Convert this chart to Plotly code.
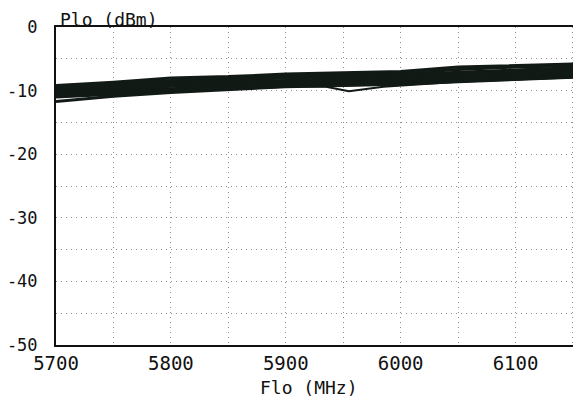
import plotly.graph_objects as go

# Frequencies (MHz) shared by the swept traces
freq = [5700, 5750, 5800, 5850, 5900, 5950, 6000, 6050, 6100, 6150, 6200]

# Plo (dBm) for each measured trace
trace_1 = [-9.2, -8.7, -8.0, -7.8, -7.4, -7.2, -7.0, -6.3, -6.0, -5.8, -5.6]
trace_2 = [-9.5, -9.0, -8.4, -8.1, -7.7, -7.5, -7.3, -6.7, -6.3, -6.1, -5.9]
trace_3 = [-9.8, -9.3, -8.7, -8.4, -8.0, -7.8, -7.6, -7.1, -6.7, -6.4, -6.2]
trace_4 = [-10.0, -9.6, -9.0, -8.7, -8.3, -8.1, -7.9, -7.4, -7.0, -6.7, -6.5]
trace_5 = [-10.3, -9.9, -9.3, -9.0, -8.6, -8.4, -8.2, -7.7, -7.3, -7.0, -6.8]
trace_6 = [-10.5, -10.1, -9.6, -9.3, -8.9, -8.7, -8.5, -8.0, -7.6, -7.3, -7.1]
trace_7 = [-10.8, -10.4, -9.9, -9.5, -9.1, -8.9, -8.7, -8.3, -7.9, -7.6, -7.4]
trace_8 = [-11.0, -10.6, -10.1, -9.7, -9.3, -9.1, -8.9, -8.5, -8.1, -7.8, -7.6]
trace_9 = [-11.7, -10.9, -10.3, -9.8, -9.4, -9.2, -9.0, -8.6, -8.2, -7.9, -7.7]
traces = [trace_1, trace_2, trace_3, trace_4, trace_5, trace_6, trace_7, trace_8, trace_9]

# One trace with a notch near 5955 MHz
dip_freq = [5700, 5800, 5900, 5935, 5955, 5985, 6050, 6200]
dip_vals = [-10.6, -9.9, -9.3, -9.4, -10.1, -9.4, -8.6, -7.6]

x_tick_vals = [5700, 5750, 5800, 5850, 5900, 5950, 6000, 6050, 6100, 6150]
x_tick_text = ["5700", "", "5800", "", "5900", "", "6000", "", "6100", ""]
y_tick_vals = [0, -5, -10, -15, -20, -25, -30, -35, -40, -45, -50]
y_tick_text = ["0", "", "-10", "", "-20", "", "-30", "", "-40", "", "-50"]

INK = "#121a16"
FONT = "DejaVu Sans Mono"
GRID = "#8f8f8f"

fig = go.Figure()
for t in traces:
    fig.add_trace(go.Scatter(x=freq, y=t, mode="lines",
                             line=dict(color=INK, width=3), showlegend=False,
                             hoverinfo="skip"))
fig.add_trace(go.Scatter(x=dip_freq, y=dip_vals, mode="lines",
                         line=dict(color=INK, width=2), showlegend=False,
                         hoverinfo="skip"))

# The page body adds an 8px offset; the figure is sized to fill the rest.
# Plot area in window pixels: left 56, top 27, width 525, height 318
fig.update_layout(
    width=573, height=393,
    margin=dict(l=48, r=0, t=19, b=56, autoexpand=False),
    paper_bgcolor="white", plot_bgcolor="white",
    font=dict(family=FONT, color="#111", size=17),
    xaxis=dict(range=[5700, 6157], tickvals=x_tick_vals, ticktext=x_tick_text,
               showgrid=True, gridcolor=GRID, griddash="1px,4px", gridwidth=1,
               showline=True, linecolor="#111", linewidth=2, mirror=True,
               ticks="", zeroline=False, ticklabelstandoff=0,
               tickfont=dict(family=FONT, size=19)),
    yaxis=dict(range=[-50, 0], tickvals=y_tick_vals, ticktext=y_tick_text,
               showgrid=True, gridcolor=GRID, griddash="1px,4px", gridwidth=1,
               showline=True, linecolor="#111", linewidth=2, mirror=False,
               ticks="", zeroline=False, ticklabelstandoff=13,
               tickfont=dict(family=FONT, size=17)),
    annotations=[
        dict(text="Plo (dBm)", x=(59 - 56) / 525, y=(345 - 19) / 318,
             xref="paper", yref="paper", xanchor="left", yanchor="middle",
             showarrow=False, borderpad=0, font=dict(family=FONT, size=18)),
        dict(text="Flo (MHz)", x=(309 - 56) / 525, y=(345 - 387) / 318,
             xref="paper", yref="paper", xanchor="center", yanchor="middle",
             showarrow=False, font=dict(family=FONT, size=18)),
    ],
)

fig.write_html("out.html")
